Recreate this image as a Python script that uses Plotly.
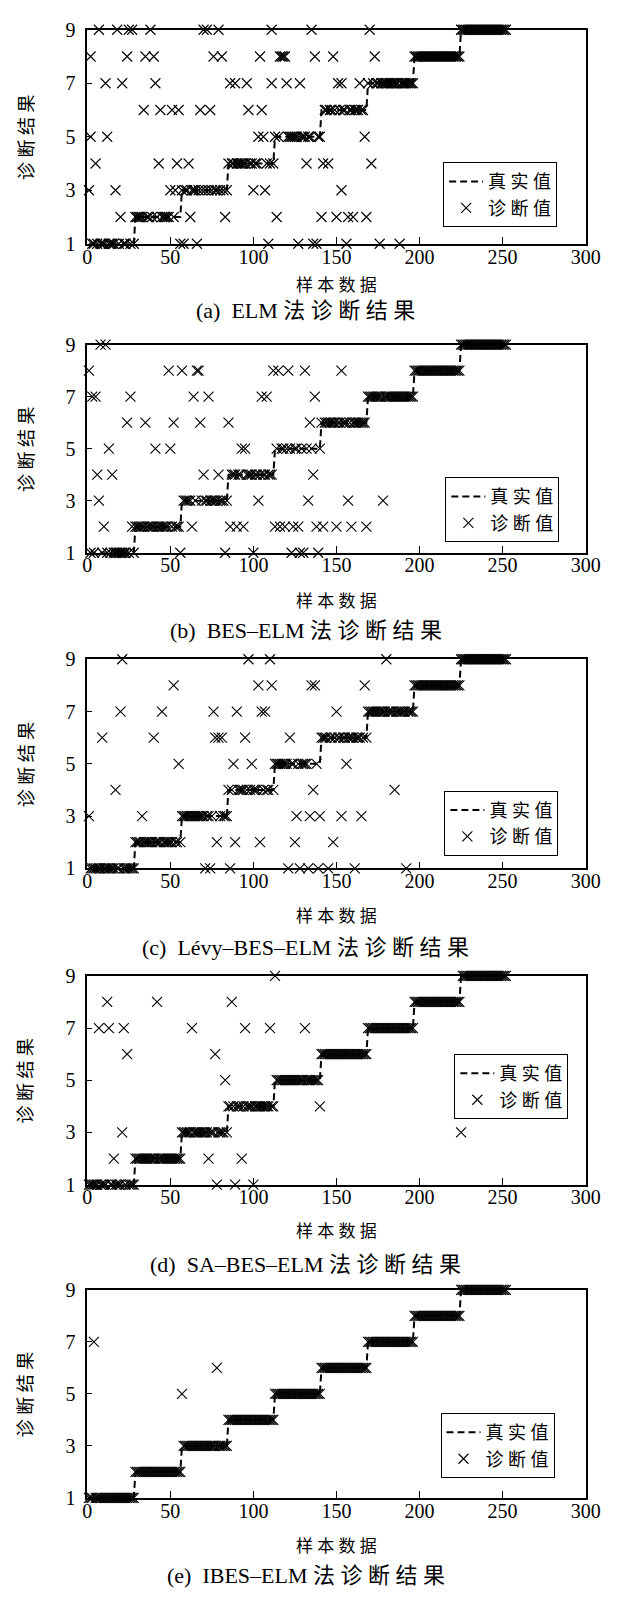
import plotly.graph_objects as go

W, H = 621, 1599

# ---------------- data ----------------
classes = [1, 2, 3, 4, 5, 6, 7, 8, 9]
class_sizes = [28, 28, 28, 28, 28, 28, 28, 28, 28]
x_ticks = [0, 50, 100, 150, 200, 250, 300]
y_ticks = [1, 3, 5, 7, 9]

# misclassified samples: (sample index, diagnosed class)
err_a = [(7, 9), (18, 9), (25, 9), (27, 9), (38, 9), (70, 9), (72, 9), (79, 9), (111, 9), (135, 9), (170, 9),
         (2, 8), (24, 8), (35, 8), (40, 8), (76, 8), (81, 8), (104, 8), (116, 8), (117, 8), (118, 8), (119, 8),
         (137, 8), (148, 8), (173, 8),
         (11, 7), (21, 7), (41, 7), (86, 7), (89, 7), (96, 7), (111, 7), (120, 7), (128, 7), (151, 7), (153, 7), (164, 7),
         (34, 6), (44, 6), (51, 6), (55, 6), (68, 6), (74, 6), (97, 6), (105, 6),
         (2, 5), (12, 5), (103, 5), (106, 5), (167, 5),
         (5, 4), (43, 4), (54, 4), (61, 4), (132, 4), (142, 4), (145, 4), (171, 4),
         (1, 3), (17, 3), (50, 3), (53, 3), (100, 3), (107, 3), (153, 3),
         (20, 2), (62, 2), (83, 2), (114, 2), (141, 2), (150, 2), (157, 2), (160, 2), (168, 2),
         (56, 1), (58, 1), (66, 1), (109, 1), (127, 1), (136, 1), (138, 1), (156, 1), (176, 1), (188, 1)]

err_b = [(8, 9), (11, 9),
         (1, 8), (49, 8), (57, 8), (66, 8), (67, 8), (112, 8), (115, 8), (121, 8), (131, 8), (153, 8),
         (3, 7), (5, 7), (26, 7), (64, 7), (73, 7), (105, 7), (108, 7), (137, 7),
         (24, 6), (35, 6), (52, 6), (68, 6), (85, 6), (134, 6),
         (13, 5), (41, 5), (50, 5), (93, 5), (95, 5),
         (6, 4), (15, 4), (70, 4), (79, 4), (136, 4),
         (7, 3), (103, 3), (133, 3), (157, 3), (178, 3),
         (10, 2), (27, 2), (63, 2), (86, 2), (90, 2), (94, 2), (113, 2), (116, 2), (119, 2), (124, 2), (127, 2),
         (138, 2), (142, 2), (150, 2), (159, 2), (168, 2),
         (56, 1), (83, 1), (100, 1), (123, 1), (128, 1), (130, 1), (139, 1)]

err_c = [(21, 9), (97, 9), (110, 9), (180, 9),
         (52, 8), (103, 8), (111, 8), (135, 8), (137, 8), (167, 8),
         (20, 7), (45, 7), (76, 7), (90, 7), (105, 7), (107, 7), (150, 7),
         (9, 6), (40, 6), (77, 6), (79, 6), (81, 6), (95, 6), (122, 6),
         (55, 5), (88, 5), (99, 5), (156, 5),
         (17, 4), (136, 4), (185, 4),
         (1, 3), (33, 3), (126, 3), (134, 3), (140, 3), (153, 3), (165, 3),
         (78, 2), (89, 2), (104, 2), (125, 2), (148, 2),
         (71, 1), (74, 1), (86, 1), (121, 1), (128, 1), (133, 1), (139, 1), (145, 1), (161, 1), (192, 1)]

err_d = [(113, 9),
         (12, 8), (42, 8), (87, 8),
         (7, 7), (13, 7), (22, 7), (63, 7), (95, 7), (110, 7), (131, 7),
         (24, 6), (77, 6),
         (83, 5),
         (140, 4),
         (21, 3), (225, 3),
         (16, 2), (73, 2), (93, 2),
         (78, 1), (89, 1), (100, 1)]

err_e = [(4, 7), (57, 5), (78, 6)]

SP = "\u2005"
captions = ["(a)\u00a0\u00a0ELM 法" + SP + SP.join("诊断结果"),
            "(b)\u00a0\u00a0BES\u2013ELM 法" + SP + SP.join("诊断结果"),
            "(c)\u00a0\u00a0Lévy\u2013BES\u2013ELM 法" + SP + SP.join("诊断结果"),
            "(d)\u00a0\u00a0SA\u2013BES\u2013ELM 法" + SP + SP.join("诊断结果"),
            "(e)\u00a0\u00a0IBES\u2013ELM 法" + SP + SP.join("诊断结果")]
x_title = SP.join("样本数据")
y_title = SP.join("诊断结果")
name_true = SP.join("真实值")
name_diag = SP.join("诊断值")

errors = [err_a, err_b, err_c, err_d, err_e]

# ---------------- layout constants (pixels) ----------------
plot_left, plot_right = 85, 600
tops = [19, 338.3, 657.3, 978.3, 1296.7]
bottoms = [236, 549.3, 869.3, 1190, 1507.7]
legend_pos = [(452.7, 153.3), (455, 472.7), (454, 790.7), (464.3, 1057.7), (450, 1421.7)]
xlabel_y = [276.5, 596.5, 916, 1236, 1555]
caption_y = [304, 628, 950, 1271, 1586]

serif = "Liberation Serif, Times New Roman, serif"
cjk = "Noto Sans CJK SC"
mixed = "Liberation Serif, Noto Sans CJK SC"

samples = []
true_labels = []
start = 1
for c, n in zip(classes, class_sizes):
    for s in range(start, start + n):
        samples.append(s)
        true_labels.append(c)
    start += n
true_map = dict(zip(samples, true_labels))

fig = go.Figure()
layout = dict(width=W, height=H, margin=dict(l=0, r=0, t=0, b=0),
              paper_bgcolor="white", plot_bgcolor="white", showlegend=True)
annotations = []

for i, err in enumerate(errors):
    k = i + 1
    sfx = "" if k == 1 else str(k)
    leg = "legend" if k == 1 else f"legend{k}"
    err_set = {s for s, _ in err}
    dx = [s for s in samples if s not in err_set] + [s for s, _ in err]
    dy = [true_map[s] for s in samples if s not in err_set] + [v for _, v in err]

    fig.add_trace(go.Scatter(x=samples, y=true_labels, mode="lines", name=name_true,
                             line=dict(color="black", width=2, dash="7px,4px"),
                             xaxis=f"x{sfx}", yaxis=f"y{sfx}", legend=leg, cliponaxis=False))
    fig.add_trace(go.Scatter(x=dx, y=dy, mode="markers", name=name_diag,
                             marker=dict(symbol="x-thin", size=10, color="black",
                                         line=dict(width=1.1, color="black")),
                             xaxis=f"x{sfx}", yaxis=f"y{sfx}", legend=leg, cliponaxis=False))

    y0 = 1 - bottoms[i] / H
    y1 = 1 - tops[i] / H
    layout[f"xaxis{sfx}"] = dict(domain=[plot_left / W, plot_right / W], range=[0, 300], anchor=f"y{sfx}",
                                tickvals=x_ticks, ticks="inside", ticklen=7, tickwidth=1.3, tickcolor="black",
                                showline=True, linecolor="black", linewidth=1.5, mirror=True,
                                showgrid=False, zeroline=False, ticklabelstandoff=-6,
                                tickfont=dict(family=serif, size=20, color="black"))
    layout[f"yaxis{sfx}"] = dict(domain=[y0, y1], range=[1, 9], anchor=f"x{sfx}",
                                tickvals=y_ticks, ticks="inside", ticklen=5, tickwidth=1.3, tickcolor="black",
                                showline=True, linecolor="black", linewidth=1.5, mirror=True,
                                showgrid=False, zeroline=False, ticklabelstandoff=6,
                                tickfont=dict(family=serif, size=20, color="black"))
    lx, ly = legend_pos[i]
    layout[leg] = dict(x=lx / W, y=1 - ly / H, xanchor="left", yanchor="top",
                       bordercolor="black", borderwidth=1, bgcolor="white",
                       font=dict(family=cjk, size=18, color="black"),
                       itemwidth=34, tracegroupgap=0)

    annotations.append(dict(text=x_title, x=(plot_left + plot_right) / 2 / W, y=1 - xlabel_y[i] / H,
                            xref="paper", yref="paper", showarrow=False, xanchor="center", yanchor="middle",
                            font=dict(family=cjk, size=17, color="black")))
    annotations.append(dict(text=y_title, x=20 / W, y=1 - (tops[i] + bottoms[i]) / 2 / H,
                            xref="paper", yref="paper", showarrow=False, xanchor="center", yanchor="middle",
                            textangle=-90, font=dict(family=cjk, size=18, color="black")))
    annotations.append(dict(text=captions[i], x=0.5, y=1 - caption_y[i] / H,
                            xref="paper", yref="paper", showarrow=False, xanchor="center", yanchor="middle",
                            font=dict(family=mixed, size=22, color="black")))

layout["annotations"] = annotations
fig.update_layout(**layout)
fig.write_html("out.html")
